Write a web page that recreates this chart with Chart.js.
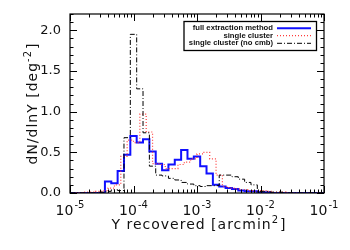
<!DOCTYPE html>
<html>
<head>
<meta charset="UTF-8">
<title>dN/dlnY vs Y recovered</title>
<script src="https://cdn.jsdelivr.net/npm/chart.js"></script>
<style>
  html, body { margin: 0; padding: 0; background: #fff; }
  #wrap { width: 350px; height: 250px; }
</style>
</head>
<body>
<div id="wrap"><canvas id="histChart" width="350" height="250"></canvas></div>
<script>
// histogram bin edges (log10 of Y) and heights
const blueEdges = [-5.0, -4.45, -4.35, -4.25, -4.15, -4.05, -3.95, -3.85, -3.75, -3.65,
                   -3.55, -3.45, -3.35, -3.25, -3.15, -3.05, -2.95, -2.85, -2.75, -2.65,
                   -2.55, -2.45, -2.35, -2.25, -2.15, -2.05, -1.95, -1.85, -1.0];
const blueVals = [0, 0.14, 0.12, 0.27, 0.47, 0.70, 0.62, 0.66, 0.51, 0.36,
                  0.28, 0.35, 0.41, 0.53, 0.42, 0.45, 0.33, 0.24, 0.10, 0.08,
                  0.06, 0.05, 0.03, 0.02, 0.02, 0.01, 0.01, 0];

const redEdges = [-5.0, -4.9, -4.8, -4.7, -4.6, -4.5, -4.4, -4.3, -4.2, -4.1,
                  -4.0, -3.9, -3.8, -3.7, -3.6, -3.5, -3.4, -3.3, -3.2, -3.1,
                  -3.0, -2.9, -2.8, -2.7, -2.6, -2.5, -2.4, -2.3, -2.2, -2.1,
                  -2.0, -1.9, -1.8, -1.7, -1.6, -1.0];
const redVals = [0, 0.005, 0.01, 0.01, 0.02, 0.03, 0.06, 0.10, 0.45, 0.65,
                 0.62, 0.97, 0.75, 0.36, 0.35, 0.30, 0.30, 0.35, 0.38, 0.42,
                 0.48, 0.50, 0.42, 0.22, 0.08, 0.06, 0.05, 0.04, 0.03, 0.02,
                 0.03, 0.02, 0.01, 0.01, 0];

const blackEdges = [-5.0, -4.55, -4.45, -4.35, -4.25, -4.15, -4.05, -3.95, -3.85, -3.75,
                    -3.65, -3.55, -3.45, -3.35, -3.25, -3.15, -3.05, -2.95, -2.85, -2.75,
                    -2.65, -2.55, -2.45, -2.35, -2.25, -2.15, -2.05, -1.95, -1.85, -1.75,
                    -1.65, -1.0];
const blackVals = [0, 0.01, 0.02, 0.04, 0.03, 0.68, 1.95, 1.28, 0.74, 0.33,
                   0.22, 0.21, 0.18, 0.16, 0.13, 0.11, 0.09, 0.08, 0.09, 0.09,
                   0.22, 0.22, 0.20, 0.17, 0.13, 0.10, 0.02, 0.02, 0.01, 0.01, 0];

const seriesNames = ['full extraction method', 'single cluster', 'single cluster (no cmb)'];
const xTickExps = ['-5', '-4', '-3', '-2', '-1'];
const yTickLabels = ['0.0', '0.5', '1.0', '1.5', '2.0'];

const FONT = 'DejaVu Sans';

function toSteps(edges, vals) {
  const pts = vals.map((v, i) => ({ x: Math.pow(10, edges[i]), y: v }));
  pts.push({ x: Math.pow(10, edges[edges.length - 1]), y: vals[vals.length - 1] });
  return pts;
}

const styles = [
  { color: '#1010ff', width: 2, dash: [] },
  { color: '#ff3a3a', width: 1.2, dash: [1, 2] },
  { color: '#000000', width: 1, dash: [5, 2, 1, 2] }
];

// frame, inward ticks, labels with superscripts and the boxed legend
const framePlugin = {
  id: 'frame',
  afterDraw(chart) {
    const ctx = chart.ctx;
    const a = chart.chartArea;
    const xs = chart.scales.x, ys = chart.scales.y;
    ctx.save();
    ctx.strokeStyle = '#000';
    ctx.lineWidth = 1.2;
    ctx.setLineDash([]);
    ctx.strokeRect(a.left, a.top, a.right - a.left, a.bottom - a.top);

    ctx.lineWidth = 1;
    ctx.beginPath();
    // x ticks, bottom and top
    xTickExps.forEach((e, k) => {
      const p = Math.pow(10, +e);
      const px = Math.round(xs.getPixelForValue(p)) + 0.5;
      ctx.moveTo(px, a.bottom); ctx.lineTo(px, a.bottom - 7);
      ctx.moveTo(px, a.top); ctx.lineTo(px, a.top + 7);
      if (k < xTickExps.length - 1) {
        for (let m = 2; m <= 9; m++) {
          const q = Math.round(xs.getPixelForValue(m * p)) + 0.5;
          ctx.moveTo(q, a.bottom); ctx.lineTo(q, a.bottom - 3.5);
          ctx.moveTo(q, a.top); ctx.lineTo(q, a.top + 3.5);
        }
      }
    });
    // y ticks, left and right
    for (let i = 0; i <= 22; i++) {
      const py = Math.round(ys.getPixelForValue(i / 10)) + 0.5;
      const len = i % 5 === 0 ? 7 : 3.5;
      ctx.moveTo(a.left, py); ctx.lineTo(a.left + len, py);
      ctx.moveTo(a.right, py); ctx.lineTo(a.right - len, py);
    }
    ctx.stroke();

    ctx.fillStyle = '#111';
    // y tick labels
    ctx.font = '13px ' + FONT;
    ctx.textAlign = 'right';
    ctx.textBaseline = 'middle';
    yTickLabels.forEach(t => {
      ctx.fillText(t, 61, ys.getPixelForValue(parseFloat(t)));
    });

    // x tick labels 10^e
    ctx.textAlign = 'left';
    ctx.textBaseline = 'alphabetic';
    xTickExps.forEach(e => {
      const px = xs.getPixelForValue(Math.pow(10, +e));
      ctx.font = '14px ' + FONT;
      const wb = ctx.measureText('10').width;
      ctx.font = '10px ' + FONT;
      const we = ctx.measureText(e).width;
      const x0 = px - (wb + we + 1) / 2;
      ctx.font = '14px ' + FONT;
      ctx.fillText('10', x0, 215);
      ctx.font = '10px ' + FONT;
      ctx.fillText(e, x0 + wb + 1, 208);
    });

    // x title
    drawSupText(ctx, 'Y recovered [arcmin', '2', ']', 199, 229);

    // y title, rotated
    ctx.save();
    ctx.translate(37, (a.top + a.bottom) / 2);
    ctx.rotate(-Math.PI / 2);
    drawSupText(ctx, 'dN/dlnY [deg', '-2', ']', 0, 0);
    ctx.restore();

    // legend box
    const lx = 184, ly = 21.5, lw = 132.5, lh = 29;
    ctx.fillStyle = '#fff';
    ctx.fillRect(lx, ly, lw, lh);
    ctx.strokeStyle = '#000';
    ctx.lineWidth = 1.3;
    ctx.strokeRect(lx, ly, lw, lh);
    const rows = [28.3, 35.7, 43.3];
    ctx.font = 'bold 7.7px "Liberation Sans"';
    ctx.textAlign = 'right';
    ctx.textBaseline = 'middle';
    seriesNames.forEach((n, i) => {
      ctx.fillStyle = '#111';
      ctx.fillText(n, 273, rows[i]);
      ctx.strokeStyle = styles[i].color;
      ctx.lineWidth = styles[i].width;
      ctx.setLineDash(styles[i].dash);
      ctx.beginPath();
      ctx.moveTo(277, rows[i]);
      ctx.lineTo(311, rows[i]);
      ctx.stroke();
    });
    ctx.restore();
  }
};

function drawSupText(ctx, main, sup, tail, cx, baseY) {
  ctx.textAlign = 'left';
  ctx.textBaseline = 'alphabetic';
  if ('letterSpacing' in ctx) ctx.letterSpacing = '1px';
  ctx.font = '14px ' + FONT;
  const w1 = ctx.measureText(main).width;
  const w3 = ctx.measureText(tail).width;
  ctx.font = '10px ' + FONT;
  const w2 = ctx.measureText(sup).width;
  let x = cx - (w1 + w2 + w3 + 1) / 2;
  ctx.fillStyle = '#111';
  ctx.font = '14px ' + FONT;
  ctx.fillText(main, x, baseY);
  x += w1;
  ctx.font = '10px ' + FONT;
  ctx.fillText(sup, x, baseY - 6);
  x += w2 + 1;
  ctx.font = '14px ' + FONT;
  ctx.fillText(tail, x, baseY);
  if ('letterSpacing' in ctx) ctx.letterSpacing = '0px';
}

const allEdges = [blueEdges, redEdges, blackEdges];
const allVals = [blueVals, redVals, blackVals];

new Chart(document.getElementById('histChart'), {
  type: 'line',
  data: {
    datasets: seriesNames.map((n, i) => ({
      label: n,
      data: toSteps(allEdges[i], allVals[i]),
      stepped: 'before',
      borderColor: styles[i].color,
      borderWidth: styles[i].width,
      borderDash: styles[i].dash,
      pointRadius: 0,
      fill: false,
      order: 3 - i
    }))
  },
  options: {
    responsive: false,
    animation: false,
    devicePixelRatio: 1,
    layout: { padding: { left: 0, right: 26, top: 14, bottom: 0 } },
    plugins: { legend: { display: false }, tooltip: { enabled: false } },
    scales: {
      x: {
        type: 'logarithmic', min: 1e-5, max: 1e-1,
        ticks: { display: false }, grid: { display: false }, border: { display: false },
        afterFit(s) { s.height = 57; }
      },
      y: {
        type: 'linear', min: 0, max: 2.2,
        ticks: { display: false }, grid: { display: false }, border: { display: false },
        afterFit(s) { s.width = 70; }
      }
    }
  },
  plugins: [framePlugin]
});
</script>
</body>
</html>
